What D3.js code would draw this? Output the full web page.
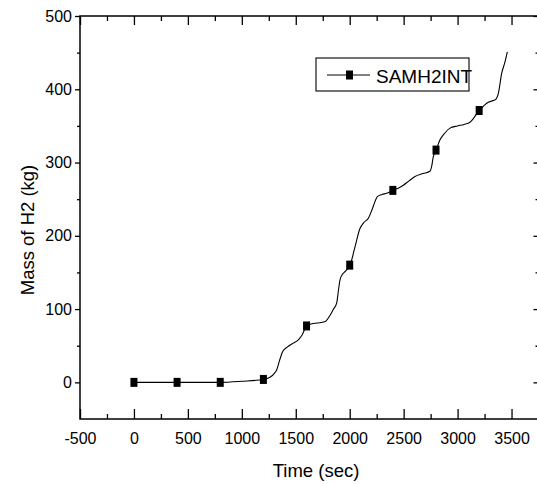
<!DOCTYPE html>
<html><head><meta charset="utf-8">
<script src="https://cdn.jsdelivr.net/npm/d3@7/dist/d3.min.js"></script>
<style>body{margin:0;background:#fff}svg{display:block}text{font-family:"Liberation Sans",Arial,sans-serif;fill:#000}</style>
</head><body><svg id="c" width="537" height="484"></svg>
<script>
// Series: SAMH2INT — curve samples (time sec, mass kg)
const curveTime = [0,400,800,1000,1200,1261,1300,1323,1350,1379,1420,1470,1524,1560,1601,1650,1700,1773,1820,1850,1879,1895,1910,1930,1956,1980,2003,2049,2095,2130,2173,2205,2235,2256,2300,2342,2398,2450,2497,2550,2605,2680,2744,2760,2775,2800,2837,2880,2930,3000,3060,3115,3146,3170,3200,3240,3270,3316,3347,3378,3409,3440,3461];
const curveMass = [0,0,0,1.5,4,7,12,17,30,42,48,53,58,65,77,80,81,83,92,100,108,125,140,147,151,155,160,185,210,218,224,235,247,253.5,256.5,258,262,265,269,275,281,285,288,295,308,317,331,340,347,350,352,355,360,365,371,377,381,384,385.5,394.5,422,437.6,451];
// Marker points
const markerTime = [0,400,800,1200,1600,2000,2400,2800,3200];
const markerMass = [0,0,0,4,77,160,262,317,371];
// Axes
const xTicks = [-500,0,500,1000,1500,2000,2500,3000,3500];
const xMinor = [-250,250,750,1250,1750,2250,2750,3250];
const yTicks = [0,100,200,300,400,500];
const yMinor = [50,150,250,350,450];
const seriesName = "SAMH2INT";
const xTitle = "Time (sec)";
const yTitle = "Mass of H2 (kg)";

const svg = d3.select("#c");
const L = 80, R = 538.5, T = 16, B = 419;
const x = d3.scaleLinear().domain([-500, 3750]).range([L, R]);
const y = d3.scaleLinear().domain([-50, 500]).range([B, T]);
const fmt = d => String(d);

const g = svg.append("g");
// Frame
g.append("rect").attr("x", L).attr("y", T).attr("width", R - L).attr("height", B - T)
  .attr("fill", "none").attr("stroke", "#000").attr("stroke-width", 1.5);

const noDomain = s => s.select(".domain").remove();
const tickW = s => s.selectAll("line").attr("stroke-width", 1.3);
// Bottom axis: ticks inward (up)
g.append("g").attr("transform", `translate(0,${B})`)
  .call(d3.axisBottom(x).tickValues(xTicks).tickSizeInner(-10).tickSizeOuter(0).tickPadding(14).tickFormat(fmt))
  .call(noDomain).call(tickW)
  .call(s => s.selectAll("text").attr("font-size", 16).attr("dy", "0.71em"));
g.append("g").attr("transform", `translate(0,${B})`)
  .call(d3.axisBottom(x).tickValues(xMinor).tickSizeInner(-5).tickSizeOuter(0).tickFormat(""))
  .call(noDomain).call(tickW);
// Top axis: ticks inward (down)
g.append("g").attr("transform", `translate(0,${T})`)
  .call(d3.axisTop(x).tickValues(xTicks).tickSizeInner(-9).tickSizeOuter(0).tickFormat(""))
  .call(noDomain).call(tickW);
g.append("g").attr("transform", `translate(0,${T})`)
  .call(d3.axisTop(x).tickValues(xMinor).tickSizeInner(-5).tickSizeOuter(0).tickFormat(""))
  .call(noDomain).call(tickW);
// Left axis: ticks outward
g.append("g").attr("transform", `translate(${L},0)`)
  .call(d3.axisLeft(y).tickValues(yTicks).tickSizeInner(5).tickSizeOuter(0).tickPadding(3).tickFormat(fmt))
  .call(noDomain).call(tickW)
  .call(s => s.selectAll("text").attr("font-size", 16));
g.append("g").attr("transform", `translate(${L},0)`)
  .call(d3.axisLeft(y).tickValues(yMinor).tickSizeInner(3).tickSizeOuter(0).tickFormat(""))
  .call(noDomain).call(tickW);
// Right axis: ticks inward
g.append("g").attr("transform", `translate(${R},0)`)
  .call(d3.axisRight(y).tickValues(yTicks).tickSizeInner(-5).tickSizeOuter(0).tickFormat(""))
  .call(noDomain).call(tickW);
g.append("g").attr("transform", `translate(${R},0)`)
  .call(d3.axisRight(y).tickValues(yMinor).tickSizeInner(-3).tickSizeOuter(0).tickFormat(""))
  .call(noDomain).call(tickW);

// Axis titles
svg.append("text").attr("x", 316).attr("y", 477).attr("text-anchor", "middle")
  .attr("font-size", 18.5).text(xTitle);
svg.append("text").attr("transform", "translate(34,230) rotate(-90)").attr("text-anchor", "middle")
  .attr("font-size", 18.5).text(yTitle);

// Curve
const pts = curveTime.map((t, i) => [t, curveMass[i]]);
const line = d3.line().x(d => x(d[0])).y(d => y(d[1])).curve(d3.curveMonotoneX);
g.append("path").datum(pts).attr("d", line).attr("fill", "none").attr("stroke", "#000").attr("stroke-width", 1.1);

// Markers
const mw = 7, mh = 9;
g.selectAll("rect.m").data(markerTime.map((t, i) => [t, markerMass[i]])).join("rect")
  .attr("class", "m").attr("x", d => x(d[0]) - mw / 2).attr("y", d => y(d[1]) - mh / 2)
  .attr("width", mw).attr("height", mh).attr("fill", "#000");

// Legend
const lg = svg.append("g");
lg.append("rect").attr("x", 316).attr("y", 58).attr("width", 153).attr("height", 33)
  .attr("fill", "none").attr("stroke", "#000").attr("stroke-width", 1.1);
lg.append("line").attr("x1", 327).attr("x2", 370).attr("y1", 75).attr("y2", 75).attr("stroke", "#000").attr("stroke-width", 1.1);
lg.append("rect").attr("x", 349.5 - mw / 2).attr("y", 75 - mh / 2).attr("width", mw).attr("height", mh).attr("fill", "#000");
lg.append("text").attr("x", 376).attr("y", 83).attr("font-size", 19).text(seriesName);
</script></body></html>
